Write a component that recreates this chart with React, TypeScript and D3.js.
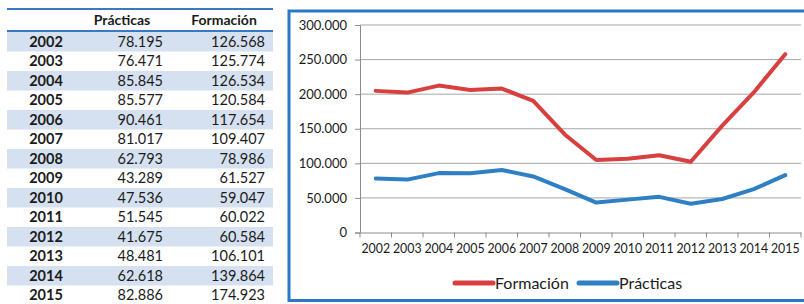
import React, { useEffect, useRef } from 'react';
import * as d3 from 'd3';

const years = ['2002', '2003', '2004', '2005', '2006', '2007', '2008', '2009', '2010', '2011', '2012', '2013', '2014', '2015'];
const practicas = [78195, 76471, 85845, 85577, 90461, 81017, 62793, 43289, 47536, 51545, 41675, 48481, 62618, 82886];
const formacion = [126568, 125774, 126534, 120584, 117654, 109407, 78986, 61527, 59047, 60022, 60584, 106101, 139864, 174923];
const yTicks = [0, 50000, 100000, 150000, 200000, 250000, 300000];

const W = 804;
const H = 304;
const FONT = 'Lato, "Open Sans", sans-serif';

const App: React.FC = () => {
  const svgRef = useRef<SVGSVGElement>(null);

  useEffect(() => {
    const svg = d3.select(svgRef.current);
    svg.selectAll('*').remove();

    const es = d3.formatLocale({ decimal: ',', thousands: '.', grouping: [3], currency: ['', ' €'] });
    const fmt = (v: number) => (v === 0 ? '0' : es.format(',')(v));

    // ---- tabla ----
    const tLeft = 7, tRight = 273, rowTop = 32, rowH = 19.5;
    const blue = '#3a78c2';
    const table = svg.append('g');

    table.selectAll('rect.band')
      .data(years)
      .join('rect')
      .attr('class', 'band')
      .attr('x', tLeft)
      .attr('y', (d, i) => rowTop + i * rowH)
      .attr('width', tRight - tLeft)
      .attr('height', rowH)
      .attr('fill', (d, i) => (i % 2 === 0 ? '#d5e1f0' : 'none'));

    table.append('line').attr('x1', tLeft).attr('x2', tRight).attr('y1', 9).attr('y2', 9)
      .attr('stroke', blue).attr('stroke-width', 2);
    table.append('line').attr('x1', tLeft).attr('x2', tRight).attr('y1', 31).attr('y2', 31)
      .attr('stroke', blue).attr('stroke-width', 2);

    table.append('text').attr('x', 122).attr('y', 25).attr('text-anchor', 'middle')
      .style('font', `bold 14px ${FONT}`).attr('fill', '#1b1b1b').text('Prácticas');
    table.append('text').attr('x', 224).attr('y', 25).attr('text-anchor', 'middle')
      .style('font', `bold 14px ${FONT}`).attr('fill', '#1b1b1b').text('Formación');

    const rows = table.selectAll('g.row')
      .data(years)
      .join('g')
      .attr('class', 'row')
      .attr('transform', (d, i) => `translate(0,${rowTop + i * rowH + rowH / 2 + 5})`);
    rows.append('text').attr('x', 46).attr('text-anchor', 'middle')
      .style('font', `bold 14.5px ${FONT}`).attr('fill', '#1b1b1b').text(d => d);
    rows.append('text').attr('x', 163).attr('text-anchor', 'end')
      .style('font', `14.5px ${FONT}`).attr('fill', '#1b1b1b').text((d, i) => fmt(practicas[i]));
    rows.append('text').attr('x', 265).attr('text-anchor', 'end')
      .style('font', `14.5px ${FONT}`).attr('fill', '#1b1b1b').text((d, i) => fmt(formacion[i]));

    // ---- grafico ----
    svg.append('rect')
      .attr('x', 289).attr('y', 11).attr('width', 600).attr('height', 289.5)
      .attr('fill', 'white').attr('stroke', '#2a78c6').attr('stroke-width', 3);

    const x = d3.scaleBand().domain(years).range([360, 801]);
    const y = d3.scaleLinear().domain([0, 300000]).range([232.5, 25]);

    const g = svg.append('g');
    g.selectAll('line.grid')
      .data(yTicks.filter(t => t > 0))
      .join('line')
      .attr('class', 'grid')
      .attr('x1', 360).attr('x2', 801)
      .attr('y1', d => y(d)).attr('y2', d => y(d))
      .attr('stroke', '#a6a6a6').attr('stroke-width', 1);

    const yAxis = g.append('g')
      .attr('transform', 'translate(360,0)')
      .call(d3.axisLeft(y).tickValues(yTicks).tickFormat(d => fmt(+d)).tickSize(5).tickPadding(8));
    yAxis.select('.domain').attr('stroke', '#8c8c8c');
    yAxis.selectAll('line').attr('stroke', '#8c8c8c');
    yAxis.selectAll('text').style('font', `13px ${FONT}`).attr('fill', '#1b1b1b');

    const xAxis = g.append('g')
      .attr('transform', 'translate(0,232.5)')
      .call(d3.axisBottom(x).tickSize(0).tickPadding(12));
    xAxis.select('.domain').attr('stroke', '#8c8c8c');
    xAxis.selectAll('text').style('font', `12.4px ${FONT}`).attr('fill', '#1b1b1b');
    // marcas entre categorias
    xAxis.selectAll('line.sep')
      .data([...years, 'end'])
      .join('line')
      .attr('class', 'sep')
      .attr('x1', (d, i) => 360 + i * x.step())
      .attr('x2', (d, i) => 360 + i * x.step())
      .attr('y1', 0).attr('y2', 5)
      .attr('stroke', '#8c8c8c');

    const table2 = years.map((yr, i) => ({ year: yr, Prácticas: practicas[i], Formación: formacion[i] }));
    const stack = d3.stack<any>().keys(['Prácticas', 'Formación']);
    const series = stack(table2);
    const colors: Record<string, string> = { 'Prácticas': '#2f7fc4', 'Formación': '#d8403f' };

    const line = d3.line<any>()
      .x(d => x(d.data.year)! + x.bandwidth() / 2)
      .y(d => y(d[1]));

    g.selectAll('path.serie')
      .data(series)
      .join('path')
      .attr('class', 'serie')
      .attr('d', s => line(s as any))
      .attr('fill', 'none')
      .attr('stroke', s => colors[s.key])
      .attr('stroke-width', 4)
      .attr('stroke-linejoin', 'round')
      .attr('stroke-linecap', 'round');

    // leyenda
    const legend = [
      { name: 'Formación', x: 455 },
      { name: 'Prácticas', x: 579 },
    ];
    const lg = g.selectAll('g.leg').data(legend).join('g').attr('class', 'leg')
      .attr('transform', d => `translate(${d.x},283)`);
    lg.append('line').attr('x1', 0).attr('x2', 38).attr('y1', 0).attr('y2', 0)
      .attr('stroke', d => colors[d.name]).attr('stroke-width', 5).attr('stroke-linecap', 'round');
    lg.append('text').attr('x', 40).attr('y', 6)
      .style('font', `16px ${FONT}`).attr('fill', '#1b1b1b').text(d => d.name);
  }, []);

  return (
    <svg ref={svgRef} width={W} height={H}
      style={{ position: 'absolute', left: 0, top: 0, background: 'white', display: 'block' }} />
  );
};

export default App;
